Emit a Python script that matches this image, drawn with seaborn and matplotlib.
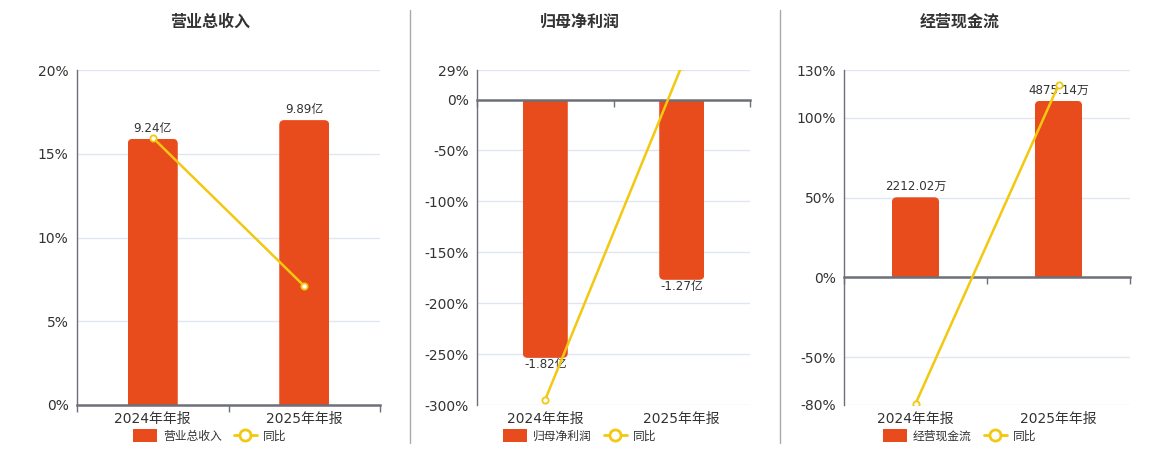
import numpy as np
import seaborn as sns
import matplotlib.pyplot as plt
from matplotlib.patches import FancyBboxPatch, Rectangle, Patch
from matplotlib.lines import Line2D

sns.set_style("white")
plt.rcParams['font.family'] = ['DejaVu Sans', 'Noto Sans CJK SC']

periods = ["2024年年报", "2025年年报"]

# 营业总收入
rev_values = [9.24, 9.89]
rev_labels = ["9.24亿", "9.89亿"]
rev_yoy = [15.96, 7.10]
rev_ticks = [0, 5, 10, 15, 20]

# 归母净利润
np_values = [-1.82, -1.27]
np_labels = ["-1.82亿", "-1.27亿"]
np_yoy = [-294.6, 33.0]
np_ticks = [-300, -250, -200, -150, -100, -50, 0, 29]

# 经营现金流
cf_values = [2212.02, 4875.14]
cf_labels = ["2212.02万", "4875.14万"]
cf_yoy = [-79.2, 120.6]
cf_ticks = [-80, -50, 0, 50, 100, 130]

BAR = "#E84B1C"
LINE = "#F2C811"
AXIS = "#6E7079"
GRID = "#E0E6F1"
TXT = "#333333"

W, H = 1160, 450
fig = plt.figure(figsize=(W / 100, H / 100), dpi=100)

panels = [
    ("营业总收入", rev_values, rev_labels, rev_yoy, rev_ticks, (0, 11.63), (77, 303), 210, 3),
    ("归母净利润", np_values, np_labels, np_yoy, np_ticks, (-2.152, 0.208), (477, 273), 580, 0),
    ("经营现金流", cf_values, cf_labels, cf_yoy, cf_ticks, (-3525, 5728), (844, 286), 960, 3),
]

top_px, bot_px = 70, 405

for title, vals, labs, yoy, ticks, bar_lim, (left_px, width_px), cx, lpad in panels:
    rect = [left_px / W, 1 - bot_px / H, width_px / W, (bot_px - top_px) / H]
    ax = fig.add_axes(rect)
    ax2 = ax.twinx()
    ax3 = ax.twinx()

    # bars
    sns.barplot(x=periods, y=vals, ax=ax2, color=BAR, width=0.33, saturation=1)
    ax2.set_ylim(*bar_lim)
    ax2.bar_label(ax2.containers[0], labels=labs, padding=lpad, fontsize=8.6, color=TXT)

    # line
    sns.pointplot(x=periods, y=yoy, ax=ax3, color=LINE, markers="o",
                  markersize=4.5, markerfacecolor="white", markeredgewidth=1.3,
                  linewidth=1.8)
    ylo, yhi = ticks[0], ticks[-1]
    ax3.set_ylim(ylo, yhi)
    ax.set_ylim(ylo, yhi)

    for a in (ax, ax2, ax3):
        a.set_xlim(-0.5, 1.5)
        a.set_xlabel("")
        a.set_ylabel("")
    for a in (ax2, ax3):
        a.set_yticks([])
        for s in a.spines.values():
            s.set_visible(False)
        a.patch.set_visible(False)

    # round the outer corners of the bars
    ux = 2.0 / width_px
    uy = (bar_lim[1] - bar_lim[0]) / (bot_px - top_px)
    r = 5 * ux
    for p in list(ax2.patches):
        x, y, w, h = p.get_x(), p.get_y(), p.get_width(), p.get_height()
        ext = 6 * uy
        if h >= 0:
            by, bh = y - ext, h + ext
        else:
            by, bh = y + h, -h + ext
        fb = FancyBboxPatch((x, by), w, bh,
                            boxstyle=f"round,pad=0,rounding_size={r}",
                            mutation_aspect=uy / ux, facecolor=BAR,
                            edgecolor="none", transform=ax2.transData)
        ax2.add_patch(fb)
        clip = Rectangle((x, min(y, y + h)), w, abs(h), transform=ax2.transData)
        fb.set_clip_path(clip)
        p.set_visible(False)

    # main axis: ticks, grid, spines
    ax.set_yticks(ticks)
    ax.set_yticklabels([f"{t}%" for t in ticks])
    ax.set_xticks([0, 1])
    ax.set_xticklabels(periods)
    ax.tick_params(axis="both", length=0, labelsize=10, colors=TXT, pad=6)
    ax.tick_params(axis="x", pad=5)
    ax.grid(axis="y", color=GRID, linewidth=1)
    ax.grid(axis="x", visible=False)
    for s in ("top", "right", "bottom"):
        ax.spines[s].set_visible(False)
    ax.spines["left"].set_color(AXIS)
    ax.spines["left"].set_linewidth(1)

    # zero line with category boundary ticks
    zero_frac = (0 - ylo) / (yhi - ylo)
    sec = ax3.secondary_xaxis(zero_frac)
    sec.set_alignment("bottom")
    sec.set_xticks([-0.5, 0.5, 1.5])
    sec.set_xticklabels([])
    sec.tick_params(length=5, color=AXIS, width=1)
    sec.spines["bottom"].set_color(AXIS)
    sec.spines["bottom"].set_linewidth(1.8)
    sec.set_zorder(1)

    fig.text(cx / W, 1 - 22 / H, title, ha="center", va="center",
             fontsize=11.5, fontweight="bold", color=TXT)

    handles = [Patch(facecolor=BAR, edgecolor="none"),
               Line2D([], [], color=LINE, lw=2, marker="o", markersize=8,
                      markerfacecolor="white", markeredgewidth=2)]
    ax3.legend(handles, [title, "同比"], loc="center",
               bbox_to_anchor=(cx / W, 1 - 436 / H), bbox_transform=fig.transFigure,
               ncol=2, frameon=False, fontsize=8.5, handlelength=2.0,
               handleheight=1.2, handletextpad=0.5, columnspacing=1.0,
               labelcolor=TXT)

for xs in (410, 780):
    fig.add_artist(Line2D([xs / W, xs / W], [1 - 443 / H, 1 - 10 / H],
                          color="#AAAAAA", lw=1, transform=fig.transFigure))

fig.savefig("out.png", dpi=100)
